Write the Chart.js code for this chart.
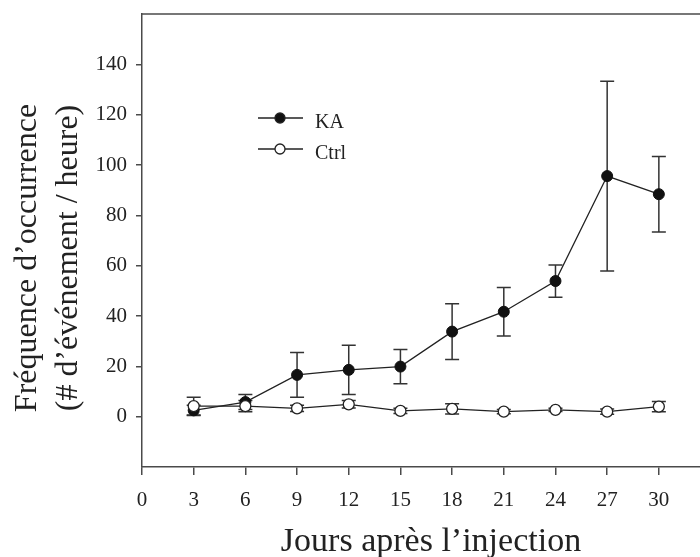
<!DOCTYPE html>
<html>
<head>
<meta charset="utf-8">
<script src="https://cdn.jsdelivr.net/npm/chart.js@4/dist/chart.umd.min.js"></script>
<style>
html,body{margin:0;padding:0;background:#fff;overflow:hidden;}
#wrap{width:700px;height:557px;overflow:hidden;}
</style>
</head>
<body>
<div id="wrap"><canvas id="c" width="707" height="557"></canvas></div>
<script>
const days      = [3, 6, 9, 12, 15, 18, 21, 24, 27, 30];
const kaMean    = [2.5, 5.8, 16.6, 18.6, 19.9, 33.8, 41.7, 53.9, 95.6, 88.4];
const kaErr     = [2.0, 3.0, 8.9, 9.8, 6.8, 11.1, 9.6, 6.4, 37.7, 15.0];
const ctrlMean  = [4.2, 4.2, 3.3, 4.9, 2.3, 3.1, 2.0, 2.7, 2.0, 4.0];
const ctrlErr   = [3.5, 2.2, 1.2, 1.5, 1.0, 2.0, 0.8, 0.6, 1.0, 2.0];
const xTicks    = [0, 3, 6, 9, 12, 15, 18, 21, 24, 27, 30];
const yTicks    = [0, 20, 40, 60, 80, 100, 120, 140];
const seriesNames = ['KA', 'Ctrl'];
const xTitle = 'Jours après l\u2019injection';
const yTitle = ['Fréquence d\u2019occurrence', '(# d\u2019événement / heure)'];

const FONT = '"Liberation Serif", "DejaVu Serif", serif';
const AXIS = '#4a4a4a';

const kaPts = days.map((d, i) => ({x: d, y: kaMean[i]}));
const ctrlPts = days.map((d, i) => ({x: d, y: ctrlMean[i]}));

const errorBars = {
  id: 'errorBars',
  beforeDatasetsDraw(chart) {
    const ctx = chart.ctx, xs = chart.scales.x, ys = chart.scales.y;
    const sets = [[kaMean, kaErr], [ctrlMean, ctrlErr]];
    ctx.save();
    ctx.strokeStyle = '#333';
    ctx.lineWidth = 1.5;
    sets.forEach(([m, e]) => {
      days.forEach((d, i) => {
        const px = xs.getPixelForValue(d);
        const y1 = ys.getPixelForValue(m[i] + e[i]);
        const y2 = ys.getPixelForValue(m[i] - e[i]);
        ctx.beginPath();
        ctx.moveTo(px, y1); ctx.lineTo(px, y2);
        ctx.moveTo(px - 7, y1); ctx.lineTo(px + 7, y1);
        ctx.moveTo(px - 7, y2); ctx.lineTo(px + 7, y2);
        ctx.stroke();
      });
    });
    ctx.restore();
  }
};

const decor = {
  id: 'decor',
  afterDraw(chart) {
    const ctx = chart.ctx, a = chart.chartArea;
    ctx.save();
    ctx.strokeStyle = AXIS;
    ctx.lineWidth = 1.5;
    ctx.beginPath();
    ctx.moveTo(a.left - 0.75, a.top);
    ctx.lineTo(a.right, a.top);
    ctx.stroke();
    const entries = [
      {label: seriesNames[0], y: 118, fill: '#111'},
      {label: seriesNames[1], y: 149, fill: '#fff'}
    ];
    ctx.font = '20px ' + FONT;
    ctx.textBaseline = 'alphabetic';
    ctx.textAlign = 'left';
    entries.forEach(en => {
      ctx.strokeStyle = '#222';
      ctx.lineWidth = 1.3;
      ctx.beginPath();
      ctx.moveTo(258, en.y); ctx.lineTo(303, en.y);
      ctx.stroke();
      ctx.beginPath();
      ctx.arc(280, en.y, 5, 0, Math.PI * 2);
      ctx.fillStyle = en.fill;
      ctx.fill();
      ctx.stroke();
      ctx.fillStyle = '#222';
      ctx.fillText(en.label, 315, en.y + 10);
    });
    ctx.fillStyle = '#222';
    ctx.textAlign = 'center';
    ctx.textBaseline = 'alphabetic';
    ctx.font = '34px ' + FONT;
    ctx.fillText(xTitle, 431, 551);
    ctx.font = '32px ' + FONT;
    ctx.translate(0, 258);
    ctx.rotate(-Math.PI / 2);
    ctx.fillText(yTitle[0], 0, 36);
    ctx.fillText(yTitle[1], 0, 77);
    ctx.restore();
  }
};

new Chart(document.getElementById('c'), {
  type: 'line',
  data: {
    datasets: [
      {
        label: seriesNames[1], data: ctrlPts, order: 0,
        borderColor: '#222', borderWidth: 1.3,
        pointRadius: 5.5, pointBackgroundColor: '#fff',
        pointBorderColor: '#222', pointBorderWidth: 1.3, tension: 0
      },
      {
        label: seriesNames[0], data: kaPts, order: 1,
        borderColor: '#222', borderWidth: 1.3,
        pointRadius: 5.5, pointBackgroundColor: '#111',
        pointBorderColor: '#111', pointBorderWidth: 1, tension: 0
      }
    ]
  },
  options: {
    responsive: false,
    animation: false,
    layout: {padding: {top: 14, right: 0, left: 0, bottom: 0}},
    plugins: {legend: {display: false}, tooltip: {enabled: false}},
    scales: {
      x: {
        type: 'linear', min: 0, max: 32.4,
        afterBuildTicks(s) { s.ticks = xTicks.map(v => ({value: v})); },
        afterFit(s) { s.height = 90; s.paddingLeft = 0; s.paddingRight = 0; },
        border: {display: true, color: AXIS, width: 1.5},
        grid: {drawOnChartArea: false, drawTicks: true, tickLength: 8, color: AXIS, lineWidth: 1.5},
        ticks: {color: '#222', font: {family: FONT, size: 21}, padding: 13, maxRotation: 0, autoSkip: false}
      },
      y: {
        type: 'linear', min: -20, max: 160,
        afterBuildTicks(s) { s.ticks = yTicks.map(v => ({value: v})); },
        afterFit(s) { s.width = 142; s.paddingTop = 0; s.paddingBottom = 0; },
        border: {display: true, color: AXIS, width: 1.5},
        grid: {drawOnChartArea: false, drawTicks: true, tickLength: 6, color: AXIS, lineWidth: 1.5},
        ticks: {color: '#222', font: {family: FONT, size: 21}, padding: 9}
      }
    }
  },
  plugins: [errorBars, decor]
});
</script>
</body>
</html>
